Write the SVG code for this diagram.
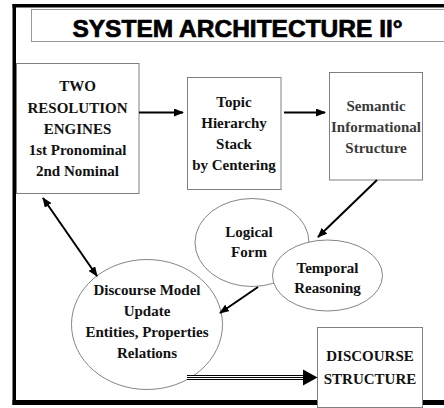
<svg xmlns="http://www.w3.org/2000/svg" width="444" height="408" viewBox="0 0 444 408">
<defs>
<style>
.box{fill:#fff;stroke:#808080;stroke-width:1}
.ell{fill:#fff;stroke:#666;stroke-width:0.8}
.t{font-weight:bold;font-size:15px;fill:#111;text-anchor:middle}
.g{fill:#3a3a3a}
.arr{stroke:#000;stroke-width:2;fill:none}
</style>
<marker id="ah" markerWidth="10" markerHeight="8" refX="9" refY="4" orient="auto" markerUnits="userSpaceOnUse">
<path d="M0,0 L10,4 L0,8 Z" fill="#000"/>
</marker>
<marker id="as" markerWidth="10" markerHeight="8" refX="1" refY="4" orient="auto" markerUnits="userSpaceOnUse">
<path d="M10,0 L0,4 L10,8 Z" fill="#000"/>
</marker>
</defs>
<rect width="444" height="408" fill="#fff"/>
<!-- frame -->
<rect x="12.5" y="4" width="432" height="3.5" fill="#000"/>
<rect x="12.5" y="4" width="3.5" height="401" fill="#000"/>
<rect x="12.5" y="400" width="432" height="5" fill="#000"/>
<g id="title">
<rect x="31.5" y="9.5" width="420" height="32" fill="#fff" stroke="#999" stroke-width="1"/>
<text x="237.5" y="37" font-family="Liberation Sans, Arial, sans-serif" font-weight="bold" font-size="24.5" text-anchor="middle" fill="#000" stroke="#000" stroke-width="0.7">SYSTEM ARCHITECTURE II°</text>
</g>
<g font-family="Liberation Serif, Times New Roman, serif">
<g id="engines">
<rect class="box" x="16.5" y="63.5" width="122.5" height="130"/>
<text class="t" x="77.5" y="91">TWO</text>
<text class="t" x="77.5" y="112.5">RESOLUTION</text>
<text class="t" x="77.5" y="134">ENGINES</text>
<text class="t" x="77.5" y="155">1st Pronominal</text>
<text class="t" x="77.5" y="176">2nd Nominal</text>
</g>
<g id="topic">
<rect class="box" x="187.5" y="77.5" width="93.5" height="112"/>
<text class="t" x="234" y="107">Topic</text>
<text class="t" x="234" y="128">Hierarchy</text>
<text class="t" x="234" y="149">Stack</text>
<text class="t" x="234" y="170">by Centering</text>
</g>
<g id="semantic">
<rect class="box" x="329.5" y="72.5" width="93" height="107.5"/>
<text class="t g" x="376" y="111">Semantic</text>
<text class="t g" x="376" y="132">Informational</text>
<text class="t g" x="376" y="153">Structure</text>
</g>
<g id="logical">
<ellipse class="ell" cx="252" cy="242.5" rx="57" ry="44"/>
<text class="t" x="249" y="237">Logical</text>
<text class="t" x="249" y="257">Form</text>
</g>
<g id="temporal">
<ellipse class="ell" cx="327.5" cy="275.5" rx="55" ry="35.5"/>
<text class="t" x="327.5" y="273">Temporal</text>
<text class="t" x="327.5" y="293">Reasoning</text>
</g>
<g id="discourse-model">
<ellipse class="ell" cx="147" cy="324.5" rx="75.5" ry="65"/>
<text class="t" x="147" y="295">Discourse Model</text>
<text class="t" x="147" y="316">Update</text>
<text class="t" x="147" y="337">Entities, Properties</text>
<text class="t" x="147" y="358">Relations</text>
</g>
<g id="discourse-structure">
<rect class="box" x="317.5" y="327.5" width="105" height="80"/>
<text class="t" x="370" y="361">DISCOURSE</text>
<text class="t" x="370" y="384">STRUCTURE</text>
</g>
</g>
<g id="connectors">
<line class="arr" x1="139" y1="112.5" x2="183" y2="112.5" marker-end="url(#ah)"/>
<line class="arr" x1="284" y1="112.5" x2="325" y2="112.5" marker-end="url(#ah)"/>
<line class="arr" x1="377" y1="180" x2="318" y2="237" marker-end="url(#ah)"/>
<line class="arr" x1="258" y1="287" x2="220" y2="313" marker-end="url(#ah)"/>
<line class="arr" x1="43" y1="198" x2="97" y2="276" marker-start="url(#as)" marker-end="url(#ah)"/>
<line x1="187" y1="377.5" x2="306" y2="377.5" stroke="#000" stroke-width="5"/>
<line x1="187" y1="377.5" x2="306" y2="377.5" stroke="#fff" stroke-width="3"/>
<line x1="187" y1="377.5" x2="306" y2="377.5" stroke="#000" stroke-width="1"/>
<path d="M303,369.5 L317.5,377.5 L303,385.5 Z" fill="#000"/>
</g>
</svg>
